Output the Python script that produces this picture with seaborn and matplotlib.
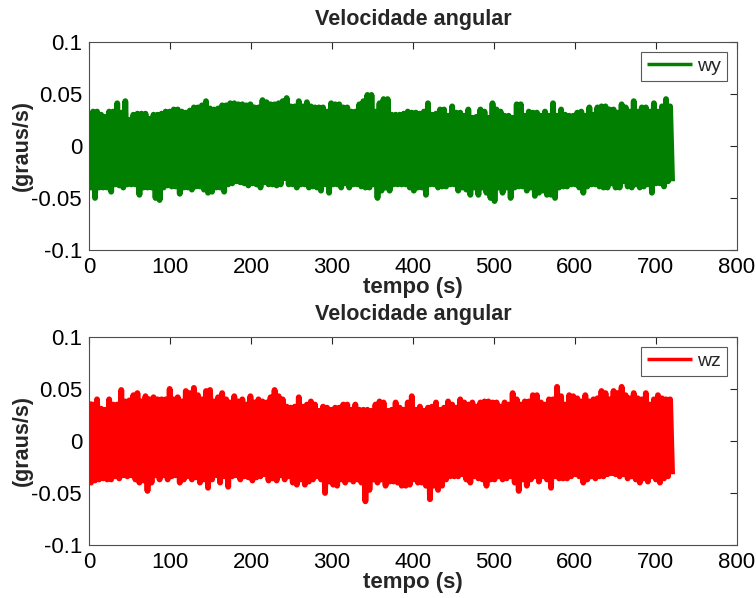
import numpy as np
import pandas as pd
import matplotlib
matplotlib.use("Agg")
import matplotlib.pyplot as plt
import seaborn as sns

# ---- data (units of 0.001 graus/s), one upper and one lower excursion every 5 s, 0..720 s
wy_hi = [27, 33, 33, 30, 28, 33, 33, 41, 32, 43, 25, 30, 31, 31, 31, 26, 30, 30, 31, 33,
         33, 35, 35, 33, 32, 34, 37, 37, 39, 43, 36, 35, 36, 39, 39, 41, 41, 40, 40, 39,
         40, 37, 37, 44, 42, 40, 40, 41, 43, 46, 38, 38, 43, 38, 42, 38, 37, 37, 37, 33,
         41, 40, 40, 37, 37, 33, 33, 40, 43, 49, 49, 33, 41, 45, 45, 30, 30, 30, 31, 33,
         32, 32, 31, 33, 41, 30, 31, 35, 35, 29, 38, 32, 32, 29, 35, 27, 28, 35, 33, 27,
         41, 35, 33, 29, 29, 27, 40, 40, 29, 33, 32, 32, 29, 33, 29, 41, 29, 35, 30, 29,
         29, 32, 33, 29, 37, 30, 37, 38, 38, 35, 35, 32, 40, 37, 33, 43, 33, 37, 37, 33,
         41, 33, 38, 45, 38]
wy_lo = [40, 50, 40, 40, 40, 44, 37, 38, 40, 37, 37, 37, 47, 40, 40, 40, 50, 52, 40, 38,
         39, 39, 46, 40, 40, 42, 39, 39, 42, 45, 44, 40, 40, 44, 37, 36, 34, 35, 36, 38,
         36, 37, 40, 35, 37, 37, 38, 37, 31, 37, 37, 40, 37, 37, 40, 39, 40, 43, 37, 45,
         37, 37, 40, 36, 40, 37, 37, 39, 40, 40, 37, 50, 43, 40, 43, 37, 37, 37, 37, 40,
         43, 40, 40, 47, 37, 37, 40, 39, 39, 37, 37, 43, 40, 42, 47, 40, 47, 40, 45, 50,
         53, 40, 45, 40, 50, 40, 39, 39, 43, 40, 48, 45, 43, 47, 47, 50, 40, 39, 39, 37,
         37, 40, 45, 39, 37, 37, 39, 40, 40, 36, 40, 40, 34, 39, 40, 37, 40, 39, 37, 45,
         36, 36, 39, 34, 34]
wz_hi = [38, 35, 40, 31, 30, 40, 35, 35, 49, 38, 39, 44, 46, 38, 43, 40, 42, 40, 40, 40,
         50, 40, 42, 38, 48, 46, 51, 44, 40, 48, 49, 38, 42, 46, 40, 37, 43, 38, 40, 35,
         43, 37, 40, 38, 37, 42, 49, 43, 40, 33, 32, 33, 42, 33, 35, 38, 35, 29, 33, 32,
         30, 32, 32, 35, 35, 30, 35, 30, 30, 30, 29, 35, 38, 37, 29, 30, 37, 32, 30, 37,
         43, 30, 33, 29, 32, 33, 37, 30, 32, 38, 35, 32, 40, 37, 35, 37, 33, 37, 38, 38,
         37, 37, 33, 37, 35, 46, 40, 35, 38, 38, 44, 44, 37, 35, 40, 40, 52, 43, 35, 44,
         43, 41, 38, 44, 38, 40, 41, 48, 46, 40, 48, 46, 52, 44, 41, 46, 41, 40, 46, 35,
         40, 44, 41, 40, 40]
wz_lo = [40, 38, 37, 36, 37, 37, 34, 36, 33, 34, 33, 37, 40, 38, 48, 40, 33, 37, 33, 37,
         34, 33, 40, 37, 34, 37, 35, 40, 37, 45, 37, 33, 40, 34, 44, 34, 33, 37, 34, 35,
         38, 35, 34, 32, 38, 36, 38, 33, 37, 34, 40, 42, 37, 42, 39, 37, 34, 37, 50, 39,
         42, 43, 37, 40, 37, 39, 37, 40, 58, 47, 37, 40, 37, 43, 39, 39, 40, 43, 43, 42,
         37, 40, 40, 43, 56, 43, 47, 43, 37, 34, 34, 34, 32, 37, 40, 34, 36, 37, 43, 37,
         37, 34, 37, 36, 34, 40, 48, 37, 43, 37, 34, 39, 34, 37, 45, 34, 36, 36, 36, 34,
         32, 34, 40, 37, 34, 36, 34, 34, 32, 31, 32, 34, 32, 36, 34, 37, 40, 36, 39, 34,
         37, 40, 36, 34, 32]

t_end = 720.0
x_ticks = [0, 100, 200, 300, 400, 500, 600, 700, 800]
y_ticks = [-0.1, -0.05, 0, 0.05, 0.1]
y_ticklabels = ["-0.1", "-0.05", "0", "0.05", "0.1"]


def series(hi, lo):
    vals = []
    for h, l in zip(hi, lo):
        vals.append(h / 1000.0)
        vals.append(-l / 1000.0)
    vals = np.array(vals)
    t = np.linspace(0, t_end, len(vals))
    return pd.DataFrame({"t": t, "v": vals})


sns.set_style("white")
plt.rcParams["font.family"] = ["Liberation Sans", "DejaVu Sans"]

fig = plt.figure(figsize=(7.56, 5.98), dpi=100)
ax1 = fig.add_axes([0.1177, 0.582, 0.857, 0.348])
ax2 = fig.add_axes([0.1177, 0.0886, 0.857, 0.348])

panels = [
    (ax1, series(wy_hi, wy_lo), "#007f00", "wy"),
    (ax2, series(wz_hi, wz_lo), "#ff0000", "wz"),
]

for ax, df, col, lab in panels:
    sns.lineplot(data=df, x="t", y="v", ax=ax, color=col, lw=4.2, label=lab,
                 sort=False, estimator=None, solid_capstyle="butt")
    ax.set_xlim(0, 800)
    ax.set_ylim(-0.1, 0.1)
    ax.set_xticks(x_ticks)
    ax.set_xticklabels([str(v) for v in x_ticks])
    ax.set_yticks(y_ticks)
    ax.set_yticklabels(y_ticklabels)
    ax.tick_params(direction="in", length=5, width=0.8, top=True, right=True,
                   labelsize=16, pad=5, colors="0.15")
    ax.tick_params(axis="both", labelcolor="black")
    for s in ax.spines.values():
        s.set_visible(True)
        s.set_color("0.3")
        s.set_linewidth(0.8)
    ax.set_title("Velocidade angular", fontsize=15.5, fontweight="bold", pad=12)
    ax.set_xlabel("tempo (s)", fontsize=16, fontweight="bold", labelpad=-1)
    ax.set_ylabel("(graus/s)", fontsize=15.5, fontweight="bold", labelpad=-1)
    leg = ax.legend(loc="upper right", fontsize=14, frameon=True, fancybox=False,
                    edgecolor="0.35", framealpha=1, handlelength=2.3,
                    borderaxespad=0.5, borderpad=0.3, handletextpad=0.3)
    leg.get_frame().set_linewidth(0.8)
    for h in leg.get_lines():
        h.set_linewidth(2.5)

fig.savefig("out.png", dpi=100, facecolor="white")
